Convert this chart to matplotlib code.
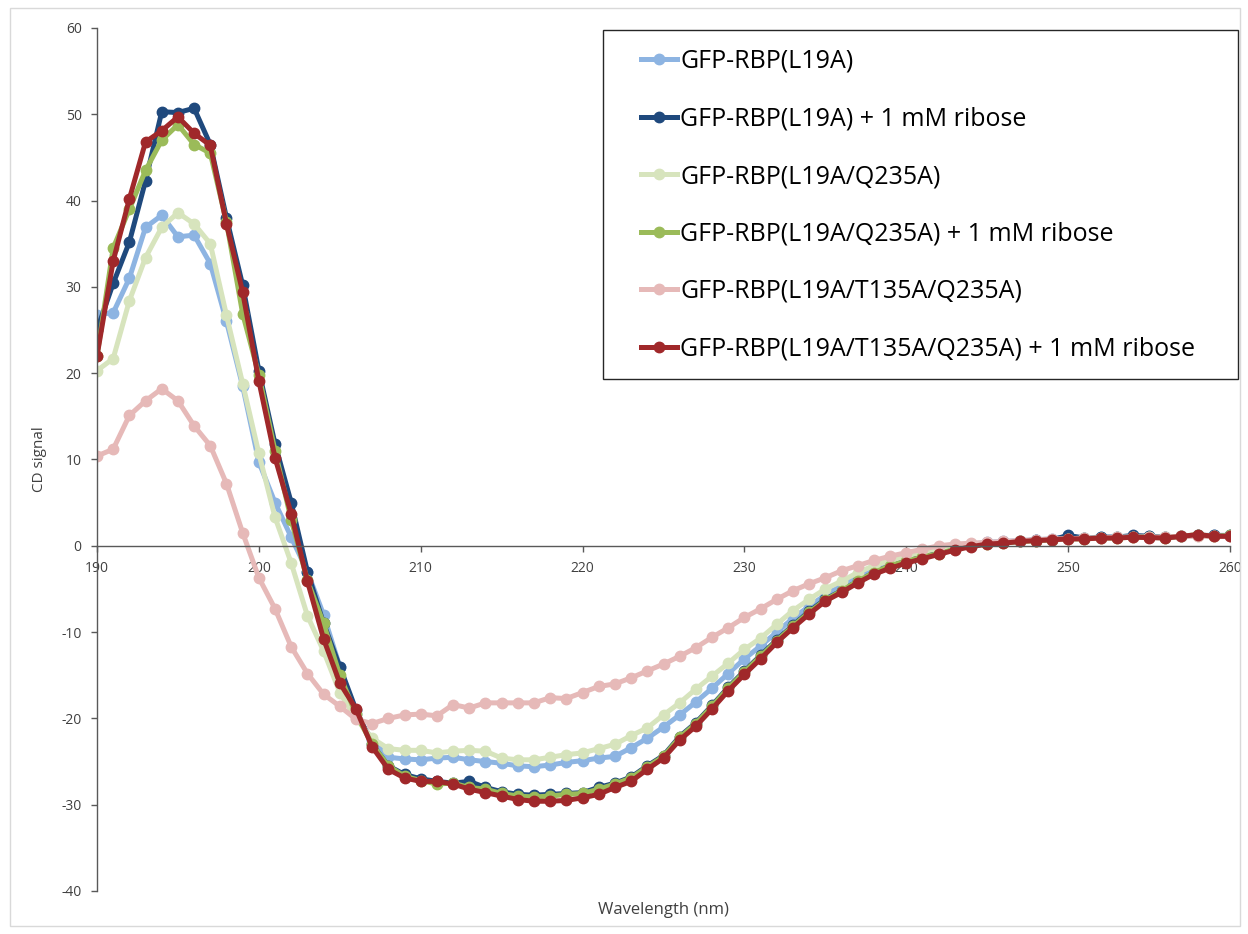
import matplotlib
matplotlib.use("Agg")
import matplotlib.pyplot as plt
from matplotlib.patches import Rectangle

plt.rcParams['font.family'] = ['Open Sans', 'DejaVu Sans']
plt.rcParams['axes.unicode_minus'] = False

# wavelength 190..260 nm, 1 nm steps
wavelength = list(range(190, 261))

l19a = [26.8, 27.0, 31.0, 36.9, 38.3, 35.8, 36.0, 32.7, 26.0, 18.5,
        9.7, 5.0, 1.0, -3.0, -8.0, -14.0, -19.5, -22.5, -24.5, -24.7,
        -24.8, -24.6, -24.5, -24.8, -25.0, -25.2, -25.5, -25.6, -25.4, -25.1,
        -24.9, -24.6, -24.4, -23.4, -22.3, -21.0, -19.6, -18.1, -16.5, -14.8,
        -13.1, -11.6, -10.0, -8.4, -7.0, -5.7, -4.6, -3.6, -2.7, -2.0,
        -1.4, -0.8, -0.4, 0.0, 0.2, 0.4, 0.5, 0.6, 0.7, 0.8,
        1.1, 0.9, 1.0, 1.0, 1.1, 1.1, 1.0, 1.1, 1.2, 1.2, 1.2]

l19a_rib = [25.0, 30.4, 35.2, 42.3, 50.3, 50.2, 50.7, 46.5, 38.0, 30.2,
            20.3, 11.8, 5.0, -3.0, -9.0, -14.0, -19.0, -23.0, -25.5, -26.5,
            -27.0, -27.3, -27.5, -27.3, -28.0, -28.5, -28.8, -28.9, -28.8, -28.7,
            -28.6, -28.0, -27.5, -26.8, -25.5, -24.3, -22.1, -20.5, -18.5, -16.4,
            -14.5, -12.7, -10.9, -9.2, -7.6, -6.2, -5.2, -4.1, -3.1, -2.3,
            -1.7, -1.2, -0.8, -0.3, 0.0, 0.3, 0.4, 0.5, 0.7, 0.7,
            1.2, 0.9, 1.0, 1.0, 1.2, 1.1, 1.0, 1.1, 1.2, 1.2, 1.2]

q235a = [20.3, 21.7, 28.4, 33.4, 36.9, 38.6, 37.3, 35.0, 26.7, 18.8,
         10.7, 3.3, -2.0, -8.1, -12.2, -17.0, -20.0, -22.3, -23.5, -23.7,
         -23.7, -24.0, -23.8, -23.7, -23.8, -24.6, -24.8, -24.8, -24.5, -24.2,
         -24.0, -23.5, -23.0, -22.0, -21.1, -19.6, -18.2, -16.6, -15.1, -13.6,
         -12.0, -10.7, -9.1, -7.5, -6.2, -5.0, -4.1, -3.1, -2.3, -1.7,
         -1.2, -0.7, -0.3, 0.1, 0.2, 0.3, 0.4, 0.5, 0.6, 0.7,
         0.8, 0.9, 0.9, 1.0, 1.0, 1.0, 1.0, 1.1, 1.1, 1.1, 1.1]

q235a_rib = [22.0, 34.5, 39.0, 43.5, 47.0, 48.8, 46.5, 45.5, 37.5, 26.9,
             19.8, 11.0, 3.0, -4.0, -9.0, -15.0, -19.5, -23.0, -25.5, -26.7,
             -27.2, -27.6, -27.5, -28.0, -28.2, -28.7, -29.0, -29.1, -29.0, -28.8,
             -28.7, -28.2, -27.6, -26.9, -25.6, -24.4, -22.2, -20.6, -18.6, -16.5,
             -14.6, -12.8, -11.0, -9.3, -7.7, -6.3, -5.2, -4.1, -3.1, -2.3,
             -1.8, -1.3, -0.9, -0.4, 0.0, 0.2, 0.3, 0.5, 0.6, 0.7,
             0.8, 0.8, 0.9, 0.9, 1.0, 1.0, 0.9, 1.1, 1.3, 1.1, 1.2]

t135a = [10.4, 11.2, 15.1, 16.8, 18.2, 16.8, 13.9, 11.6, 7.2, 1.5,
         -3.7, -7.3, -11.7, -14.8, -17.2, -18.6, -20.1, -20.6, -20.0, -19.6,
         -19.5, -19.7, -18.4, -18.8, -18.2, -18.2, -18.2, -18.2, -17.6, -17.7,
         -17.0, -16.3, -16.0, -15.3, -14.5, -13.7, -12.8, -11.8, -10.6, -9.5,
         -8.3, -7.3, -6.2, -5.2, -4.4, -3.7, -2.9, -2.3, -1.7, -1.2,
         -0.8, -0.4, 0.0, 0.2, 0.3, 0.4, 0.5, 0.6, 0.7, 0.8,
         0.8, 0.9, 0.9, 1.0, 1.0, 1.0, 1.0, 1.1, 1.1, 1.1, 1.1]

t135a_rib = [22.0, 33.0, 40.2, 46.8, 48.1, 49.7, 47.8, 46.4, 37.3, 29.4,
             19.1, 10.2, 3.7, -4.1, -10.8, -15.9, -18.9, -23.3, -25.9, -26.9,
             -27.3, -27.3, -27.6, -28.2, -28.6, -29.0, -29.4, -29.6, -29.6, -29.5,
             -29.2, -28.8, -28.0, -27.3, -25.9, -24.6, -22.5, -20.9, -18.9, -16.8,
             -14.9, -13.1, -11.2, -9.5, -7.9, -6.4, -5.4, -4.3, -3.3, -2.6,
             -2.0, -1.5, -1.0, -0.5, -0.1, 0.2, 0.3, 0.5, 0.6, 0.7,
             0.8, 0.8, 0.9, 0.9, 1.0, 0.95, 0.9, 1.1, 1.3, 1.1, 1.1]

labels = ['GFP-RBP(L19A)',
          'GFP-RBP(L19A) + 1 mM ribose',
          'GFP-RBP(L19A/Q235A)',
          'GFP-RBP(L19A/Q235A) + 1 mM ribose',
          'GFP-RBP(L19A/T135A/Q235A)',
          'GFP-RBP(L19A/T135A/Q235A) + 1 mM ribose']
series = [l19a, l19a_rib, q235a, q235a_rib, t135a, t135a_rib]
colors = ['#8DB4E2', '#1F497D', '#D7E4BD', '#9BBB59', '#E6B9B8', '#A0282A']

fig = plt.figure(figsize=(12.48, 9.34), dpi=100)
ax = fig.add_axes([97/1248, 1 - 891/934, 1133/1248, 863/934])

for vals, lab, col in zip(series, labels, colors):
    ax.plot(wavelength, vals, color=col, lw=3.6, marker='o', ms=7.5,
            label=lab, solid_joinstyle='round')

ax.set_xlim(190, 260)
ax.set_ylim(-40, 60)
ax.set_xticks(range(190, 261, 10))
ax.set_yticks(range(-40, 61, 10))

ax.spines['top'].set_visible(False)
ax.spines['right'].set_visible(False)
ax.spines['bottom'].set_position(('data', 0))
for s in ['left', 'bottom']:
    ax.spines[s].set_color('#595959')
    ax.spines[s].set_linewidth(1.0)
ax.tick_params(axis='both', direction='out', length=4, width=1,
               color='#595959', labelsize=10, labelcolor='#404040', pad=7)

ax.set_ylabel('CD signal', fontsize=11, color='#404040')
ax.yaxis.set_label_coords(-50/1133, 0.5)
ax.text(0.5, -19/863, 'Wavelength (nm)', transform=ax.transAxes,
        ha='center', va='center', fontsize=12, color='#404040')

# legend box drawn separately so the padding matches the reference
fig.patches.append(Rectangle((603/1248, 1 - 379/934), 635/1248, 349/934,
                             transform=fig.transFigure, facecolor='white',
                             edgecolor='#262626', lw=1.0, zorder=3))
leg = fig.legend(*ax.get_legend_handles_labels(), loc='upper left',
                 bbox_to_anchor=(641/1248, 1 - 49/934),
                 bbox_transform=fig.transFigure, borderaxespad=0,
                 borderpad=0, fontsize=18, labelspacing=1.3,
                 handlelength=1.45, handletextpad=0.12, frameon=False)
leg.set_zorder(4)
for h in leg.get_lines():
    h.set_linewidth(3.6)
    h.set_markersize(7.5)

# light outer chart border
fig.patches.append(Rectangle((10/1248, 8/934), 1230/1248, 918/934,
                             transform=fig.transFigure, fill=False,
                             edgecolor='#D9D9D9', lw=1))

fig.savefig('out.png', dpi=100)
